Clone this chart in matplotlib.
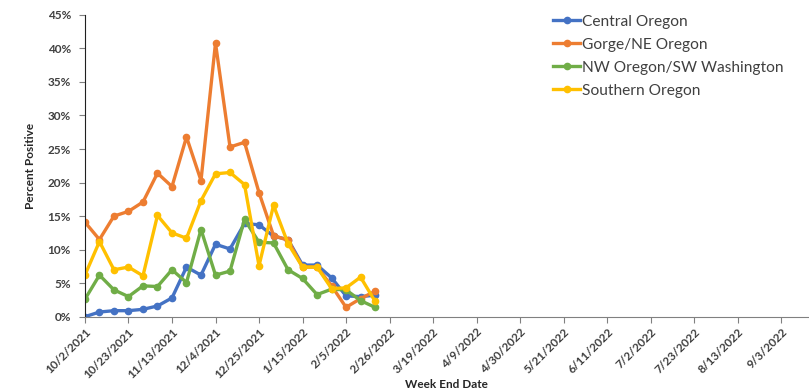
import datetime as dt
import matplotlib
matplotlib.use('Agg')
import matplotlib.pyplot as plt
from matplotlib.ticker import FuncFormatter

plt.rcParams['font.family'] = ['Lato', 'DejaVu Sans']

# weekly data, week ending 10/2/2021 .. 2/19/2022
start = dt.date(2021, 10, 2)
weeks = [start + dt.timedelta(weeks=i) for i in range(21)]

central = [0.0, 0.7, 0.9, 0.9, 1.1, 1.6, 2.8, 7.4, 6.2, 10.8, 10.1,
           13.9, 13.7, 12.0, 11.5, 7.7, 7.7, 5.8, 3.1, 3.0, 3.2]
gorge = [14.1, 11.5, 15.0, 15.7, 17.1, 21.4, 19.4, 26.8, 20.3, 40.8, 25.3,
         26.0, 18.5, 12.1, 11.4, 7.4, 7.4, 4.6, 1.4, 2.7, 3.8]
nw_sw = [2.6, 6.2, 4.0, 3.0, 4.6, 4.5, 7.0, 5.1, 13.0, 6.2, 6.8,
         14.5, 11.1, 11.0, 7.0, 5.7, 3.3, 4.1, 4.0, 2.4, 1.4]
southern = [6.2, 11.2, 7.0, 7.4, 6.1, 15.1, 12.5, 11.7, 17.3, 21.3, 21.5,
            19.7, 7.6, 16.6, 10.9, 7.4, 7.4, 4.2, 4.3, 5.9, 2.3]

series = [('Central Oregon', central, '#4472C4'),
          ('Gorge/NE Oregon', gorge, '#ED7D31'),
          ('NW Oregon/SW Washington', nw_sw, '#70AD47'),
          ('Southern Oregon', southern, '#FFC000')]

tick_dates = [start + dt.timedelta(weeks=3 * i) for i in range(17)]

fig = plt.figure(figsize=(8.09, 3.91), dpi=100)
ax = fig.add_axes([0.105, 0.19, 0.894, 0.772])

for name, vals, col in series:
    ax.plot(weeks, vals, color=col, lw=2.4, marker='o', ms=4.5, label=name)

ax.set_ylim(0, 45)
ax.set_yticks(range(0, 50, 5))
ax.yaxis.set_major_formatter(FuncFormatter(lambda v, p: '%d%%' % v))
ax.set_xlim(start, start + dt.timedelta(days=349))
ax.set_xticks(tick_dates)
ax.set_xticklabels(['%d/%d/%d' % (d.month, d.day, d.year) for d in tick_dates],
                   rotation=45, ha='right', rotation_mode='anchor')

for lab in ax.get_xticklabels() + ax.get_yticklabels():
    lab.set_fontweight('bold')
    lab.set_fontsize(8.5)
    lab.set_color('#404040')

ax.spines['top'].set_visible(False)
ax.spines['right'].set_visible(False)
ax.spines['left'].set_color('#202020')
ax.spines['bottom'].set_color('#808080')
ax.tick_params(axis='y', length=4, color='#808080', pad=6)
ax.tick_params(axis='x', length=4, color='#808080', pad=3)

ax.set_ylabel('Percent Positive', fontsize=8.5, fontweight='bold', color='#262626', labelpad=8)
ax.set_xlabel('Week End Date', fontsize=8.5, fontweight='bold', color='#262626')
ax.xaxis.set_label_coords(0.5, -0.205)

fig.legend(loc='upper left', bbox_to_anchor=(0.684, 0.962), frameon=False,
           fontsize=11.2, handlelength=1.7, handletextpad=0.15, labelspacing=0.58,
           borderpad=0, borderaxespad=0, labelcolor='#404040')

fig.savefig('out.png', dpi=100)
